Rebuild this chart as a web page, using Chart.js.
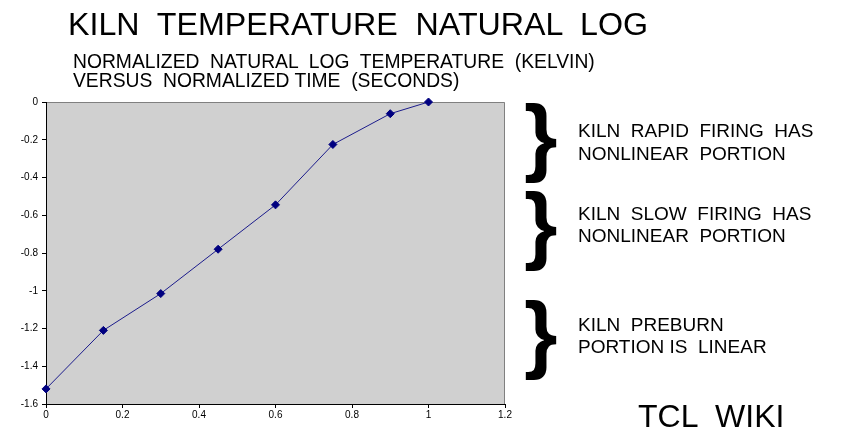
<!DOCTYPE html>
<html>
<head>
<meta charset="utf-8">
<script src="https://cdn.jsdelivr.net/npm/chart.js@4/dist/chart.umd.min.js"></script>
<style>
  html, body { margin: 0; padding: 0; background: #fff; }
  #wrap { position: relative; width: 842px; height: 441px; overflow: hidden; font-family: "Liberation Sans", Arial, sans-serif; color: #000; }
  #wrap canvas { position: absolute; left: 0; top: 0; }
  .txt { position: absolute; white-space: pre; line-height: 1; }
  .title { left: 68px; top: 8px; font-size: 32.2px; }
  .sub { left: 73px; font-size: 19.3px; }
  .brace { position: absolute; font-weight: bold; font-size: 86px; line-height: 1; left: 524px; }
  .note { left: 578px; font-size: 19px; }
  .wiki { left: 638px; top: 400px; font-size: 32px; }
</style>
</head>
<body>
<div id="wrap">
  <canvas id="chart" width="842" height="441"></canvas>
  <div class="txt title">KILN  TEMPERATURE  NATURAL  LOG</div>
  <div class="txt sub" style="top:52px">NORMALIZED  NATURAL  LOG  TEMPERATURE  (KELVIN)</div>
  <div class="txt sub" style="top:71px">VERSUS  NORMALIZED TIME  (SECONDS)</div>

  <div class="brace" style="top:92px">}</div>
  <div class="brace" style="top:180px">}</div>
  <div class="brace" style="top:289px">}</div>

  <div class="txt note" style="top:121px">KILN  RAPID  FIRING  HAS</div>
  <div class="txt note" style="top:144px">NONLINEAR  PORTION</div>
  <div class="txt note" style="top:204px">KILN  SLOW  FIRING  HAS</div>
  <div class="txt note" style="top:226px">NONLINEAR  PORTION</div>
  <div class="txt note" style="top:315px">KILN  PREBURN</div>
  <div class="txt note" style="top:337px">PORTION IS  LINEAR</div>

  <div class="txt wiki">TCL  WIKI</div>
</div>
<script>
// Temps normalisé et log naturel normalisé de la température du four
const times = [0, 0.15, 0.3, 0.45, 0.6, 0.75, 0.9, 1];
const logTemps = [-1.52, -1.21, -1.015, -0.78, -0.545, -0.225, -0.062, 0];

const xMin = 0, xMax = 1.2, xStep = 0.2;
const yMin = -1.6, yMax = 0, yStep = 0.2;

// fond gris de la zone de tracé, bords haut/droite gris
const plotBg = {
  id: "plotBg",
  beforeDraw(chart) {
    const { ctx, chartArea: a } = chart;
    ctx.save();
    ctx.fillStyle = "#d0d0d0";
    ctx.fillRect(a.left, a.top, a.right - a.left, a.bottom - a.top);
    ctx.strokeStyle = "#808080";
    ctx.lineWidth = 1;
    ctx.beginPath();
    ctx.moveTo(a.left, a.top + 0.5);
    ctx.lineTo(a.right - 0.5, a.top + 0.5);
    ctx.lineTo(a.right - 0.5, a.bottom);
    ctx.stroke();
    ctx.restore();
  },
};

const tickFont = { family: "'Liberation Sans', Arial, sans-serif", size: 10 };
// "-1" et non "-1.0", comme l'original
const fmt = (v) => String(Number(v.toFixed(1)));

new Chart(document.getElementById("chart"), {
  type: "line",
  data: {
    datasets: [
      {
        data: times.map((t, i) => ({ x: t, y: logTemps[i] })),
        borderColor: "#1c1c8c",
        borderWidth: 1,
        pointStyle: "rectRot",
        pointRadius: 4,
        pointBackgroundColor: "#000080",
        pointBorderColor: "#000080",
        tension: 0,
        fill: false,
        clip: false,
      },
    ],
  },
  options: {
    responsive: false,
    animation: false,
    devicePixelRatio: 1,
    layout: { padding: { top: 102, right: 337, left: 0, bottom: 0 } },
    plugins: { legend: { display: false }, tooltip: { enabled: false } },
    scales: {
      x: {
        type: "linear",
        min: xMin,
        max: xMax,
        grid: { drawOnChartArea: false, color: "#000", tickLength: 4 },
        border: { color: "#000" },
        ticks: { stepSize: xStep, color: "#000", font: tickFont, padding: 1, maxRotation: 0, callback: fmt },
        afterFit: (s) => { s.height = 37; },
      },
      y: {
        min: yMin,
        max: yMax,
        grid: { drawOnChartArea: false, color: "#000", tickLength: 4 },
        border: { color: "#000" },
        ticks: { stepSize: yStep, color: "#000", font: tickFont, padding: 4, callback: fmt },
        afterFit: (s) => { s.width = 46; },
      },
    },
  },
  plugins: [plotBg],
});
</script>
</body>
</html>
